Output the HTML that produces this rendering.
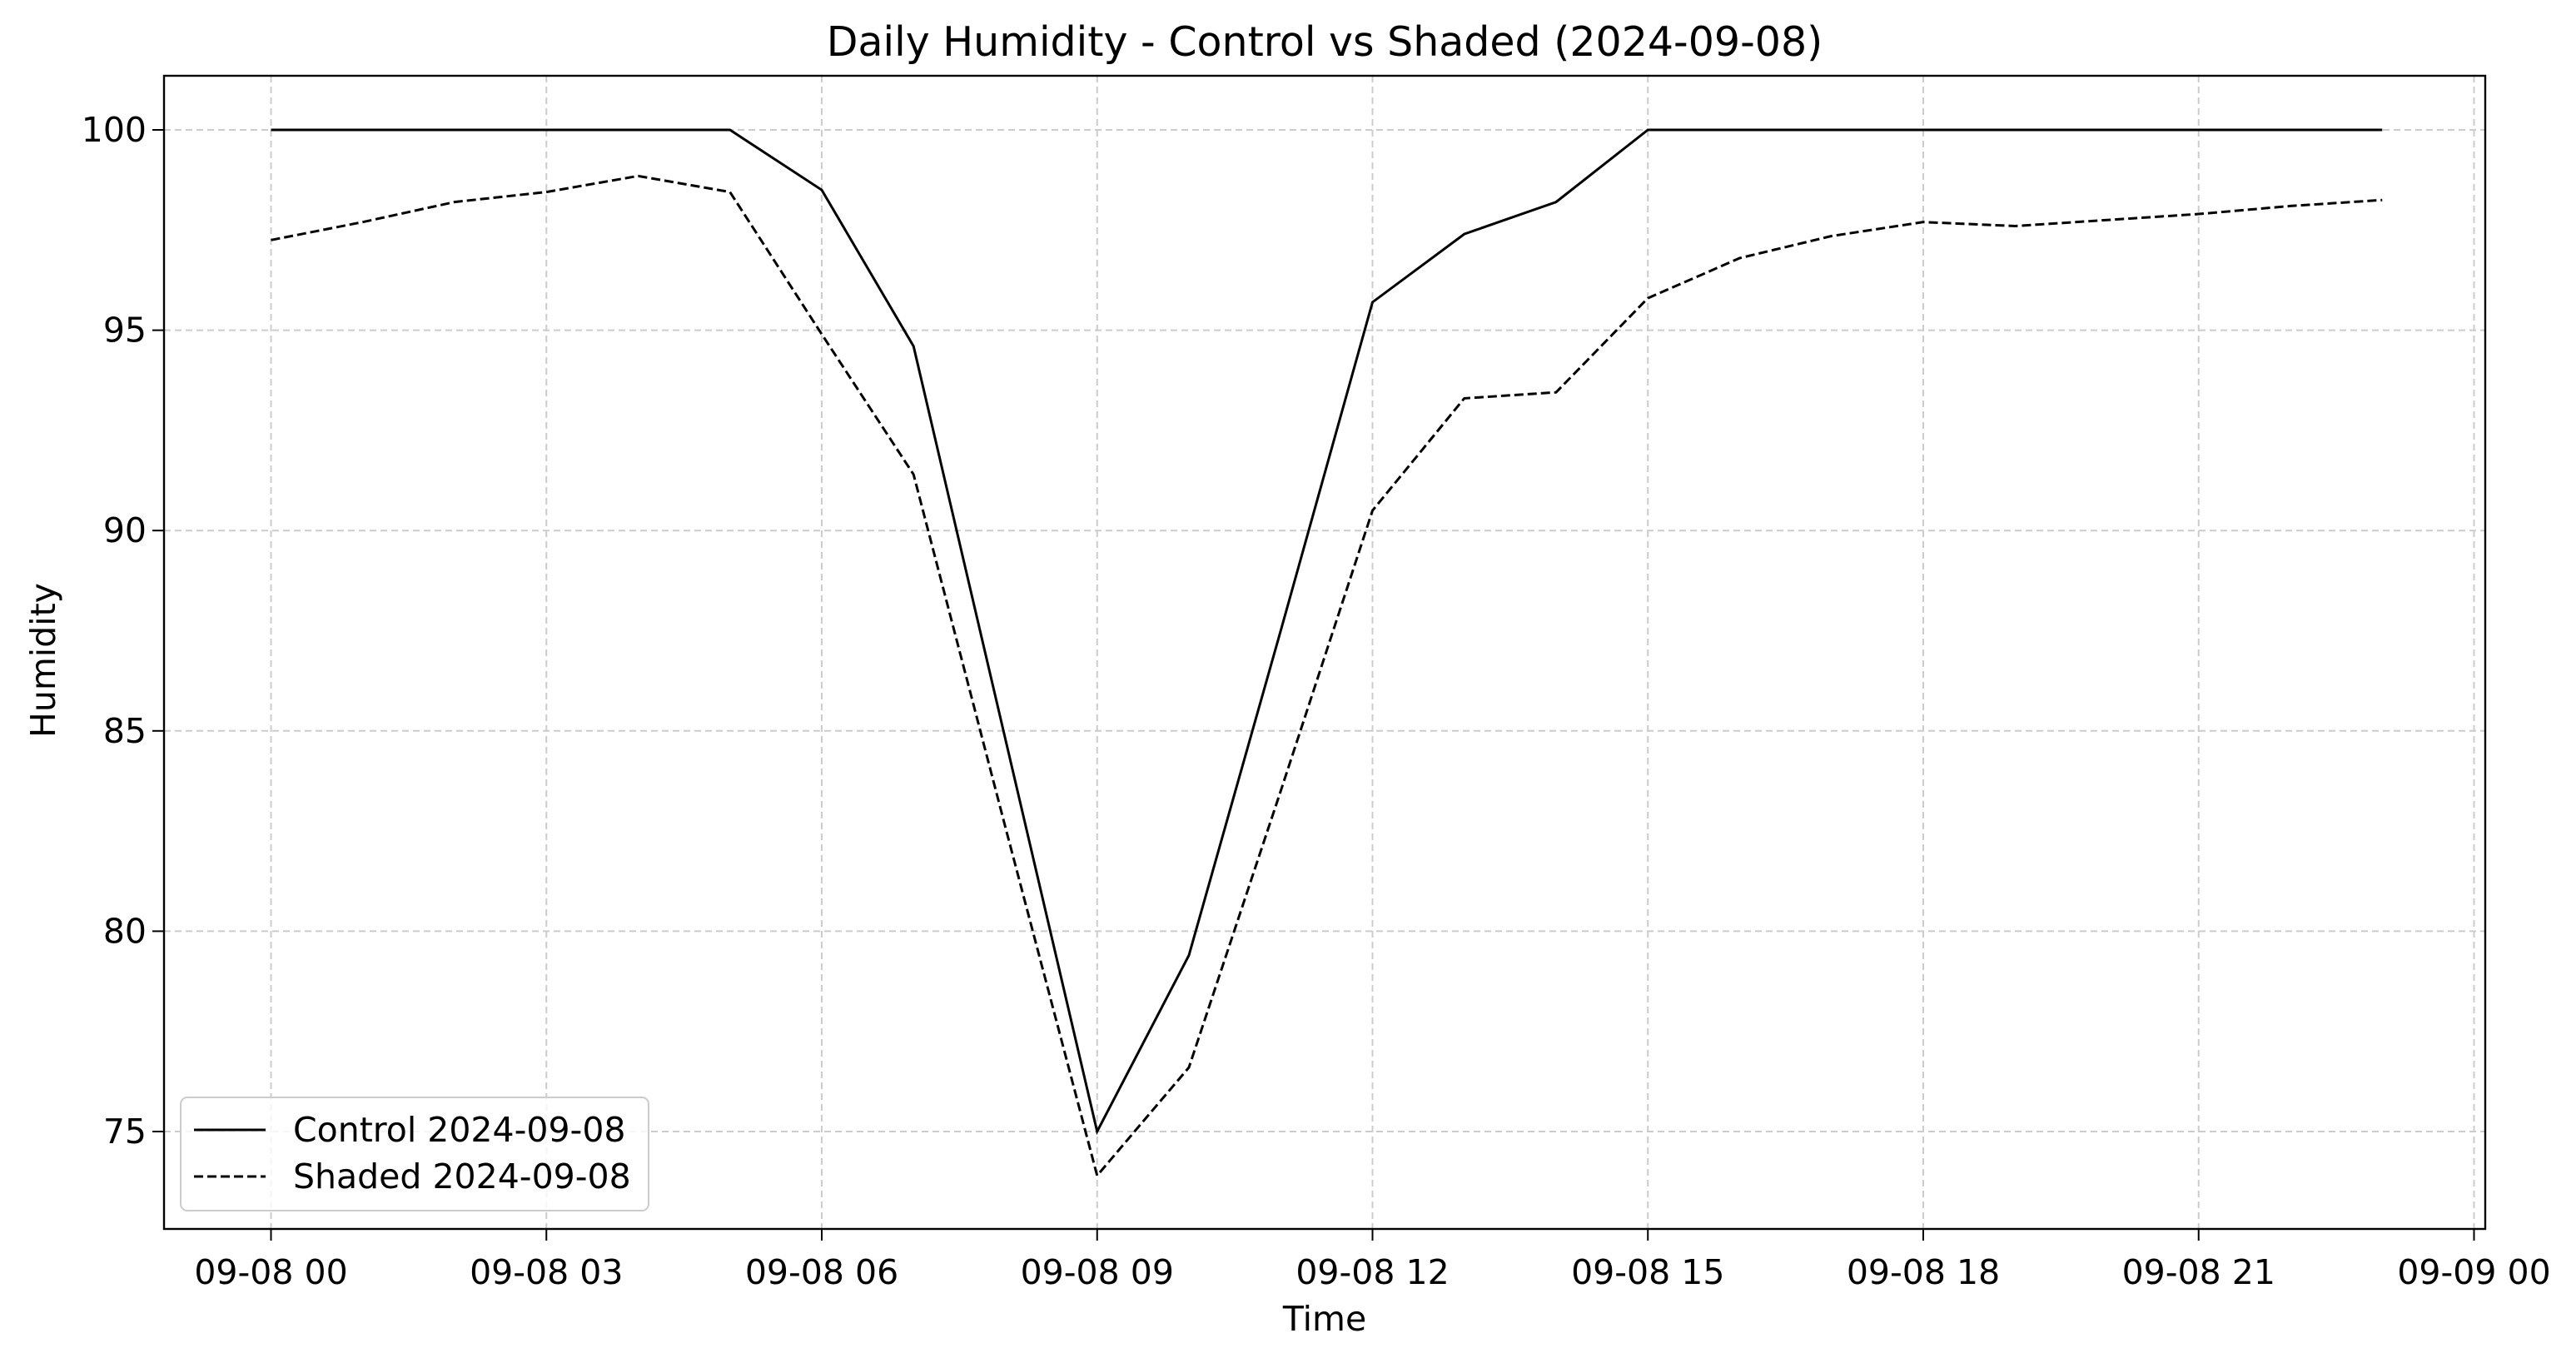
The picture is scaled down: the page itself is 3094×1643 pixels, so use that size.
<!DOCTYPE html>
<html><head><meta charset="utf-8"><style>
body{margin:0;background:#fff}
svg text{font-family:"DejaVu Sans","Liberation Sans",sans-serif;fill:#000}
</style></head><body>
<svg id="chart" width="3094" height="1638" viewBox="0 0 3094 1638" xmlns="http://www.w3.org/2000/svg">
<rect width="3094" height="1638" fill="#fff"/>
<text x="1591" y="67" font-size="49" text-anchor="middle">Daily Humidity - Control vs Shaded (2024-09-08)</text>
<g id="grid"></g>
<g id="series"></g>
<rect x="197" y="91" width="2788" height="1385" fill="none" stroke="#000" stroke-width="2.4"/>
<g id="axes"></g>
<text x="1591" y="1598" font-size="41" text-anchor="middle">Time</text>
<text x="66" y="793" font-size="41" text-anchor="middle" transform="rotate(-90 66 793)">Humidity</text>
<g>
<rect x="217" y="1318" width="562" height="136" rx="8" fill="#fff" fill-opacity="0.8" stroke="#ccc" stroke-width="2"/>
<line x1="233" y1="1357" x2="319" y2="1357" stroke="#000" stroke-width="3"/>
<text x="352" y="1371" font-size="41">Control 2024-09-08</text>
<line x1="233" y1="1413" x2="319" y2="1413" stroke="#000" stroke-width="3" stroke-dasharray="11,5"/>
<text x="352" y="1427" font-size="41">Shaded 2024-09-08</text>
</g>
</svg>
<script>
const hours=[0,1,2,3,4,5,6,7,8,9,10,11,12,13,14,15,16,17,18,19,20,21,22,23];
const controlValues=[100,100,100,100,100,100,98.5,94.6,84.8,75.0,79.4,87.5,95.7,97.4,98.2,100,100,100,100,100,100,100,100,100];
const shadedValues=[97.25,97.7,98.2,98.45,98.85,98.45,94.9,91.4,82.6,73.9,76.6,83.5,90.5,93.3,93.45,95.8,96.8,97.35,97.7,97.6,97.75,97.9,98.1,98.25];
const xTickHours=[0,3,6,9,12,15,18,21,24];
const xTickLabels=["09-08 00","09-08 03","09-08 06","09-08 09","09-08 12","09-08 15","09-08 18","09-08 21","09-09 00"];
const yTicks=[75,80,85,90,95,100];
const NS="http://www.w3.org/2000/svg";
const xS=h=>325.5+h*110.25;
const yS=v=>156+(100-v)*48.12;
function mk(tag,attrs,parent){const e=document.createElementNS(NS,tag);for(const k in attrs)e.setAttribute(k,attrs[k]);parent.appendChild(e);return e;}
const grid=document.getElementById('grid'),axes=document.getElementById('axes'),series=document.getElementById('series');
xTickHours.forEach((h,i)=>{
  const x=xS(h);
  const g=mk('line',{x1:x,y1:91,x2:x,y2:1476,stroke:'#ccc','stroke-width':2,'stroke-dasharray':'8,5'},grid);
  
  
  const t=mk('line',{x1:x,y1:1476,x2:x,y2:1490,stroke:'#000','stroke-width':2},axes);
  
  
  const l=mk('text',{x:x,y:1542,'font-size':41,'text-anchor':'middle'},axes);
  l.textContent=xTickLabels[i];
  
  
});
yTicks.forEach(v=>{
  const y=yS(v);
  const g=mk('line',{x1:197,y1:y,x2:2985,y2:y,stroke:'#ccc','stroke-width':2,'stroke-dasharray':'8,5'},grid);
  
  
  const t=mk('line',{x1:183,y1:y,x2:197,y2:y,stroke:'#000','stroke-width':2},axes);
  
  
  const l=mk('text',{x:176,y:y+14,'font-size':41,'text-anchor':'end'},axes);
  l.textContent=String(v);
  
  
});
function pts(vals){return hours.map((h,i)=>xS(h)+','+yS(vals[i])).join(' ');}
const c=mk('polyline',{points:pts(controlValues),fill:'none',stroke:'#000','stroke-width':3},series);


const s=mk('polyline',{points:pts(shadedValues),fill:'none',stroke:'#000','stroke-width':3,'stroke-dasharray':'11,5'},series);


</script>
</body></html>
